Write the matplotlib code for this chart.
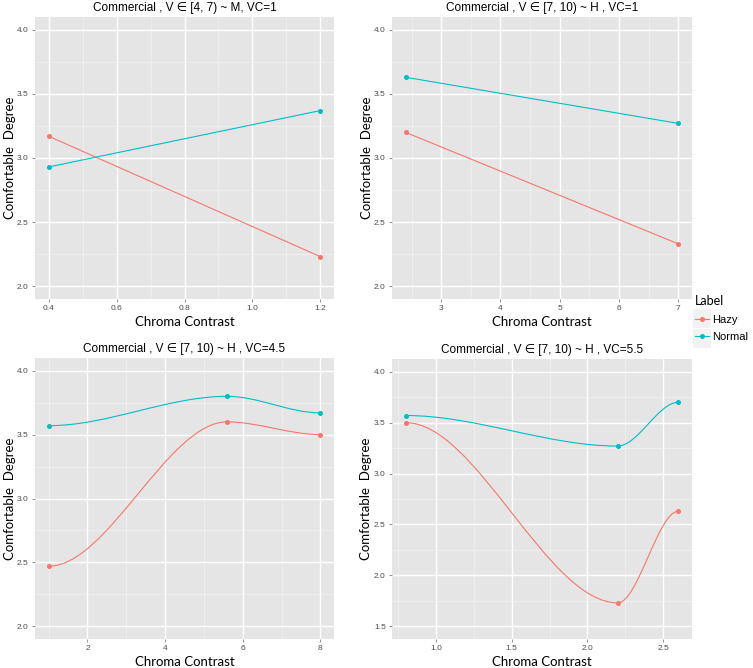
import numpy as np
import matplotlib
matplotlib.use("Agg")
import matplotlib.pyplot as plt
from matplotlib.path import Path
from matplotlib.patches import PathPatch, Rectangle
from matplotlib.lines import Line2D
from matplotlib.ticker import MultipleLocator

# data
titles = ["Commercial , V \u2208 [4, 7) ~ M, VC=1",
          "Commercial , V \u2208 [7, 10) ~ H , VC=1",
          "Commercial , V \u2208 [7, 10) ~ H , VC=4.5",
          "Commercial , V \u2208 [7, 10) ~ H , VC=5.5"]
x_vals = [[0.4, 1.2], [2.4, 7.0], [1.0, 5.6, 8.0], [0.8, 2.2, 2.6]]
hazy = [[3.17, 2.23], [3.20, 2.33], [2.47, 3.60, 3.50], [3.50, 1.73, 2.63]]
normal = [[2.93, 3.37], [3.63, 3.27], [3.57, 3.80, 3.67], [3.57, 3.27, 3.70]]
smooth = [False, False, True, True]
x_major = [0.2, 1.0, 2.0, 0.5]
y_lims = [(2.0, 4.0), (2.0, 4.0), (2.0, 4.0), (1.5, 4.0)]
labels = ["Hazy", "Normal"]
colors = ["#F8766D", "#00BFC4"]

W, H = 753, 668
# panel boxes in pixels: left, top, right, bottom
boxes = [(35, 17, 334, 299), (392, 17, 692, 299),
         (35, 358, 334, 639), (392, 359, 692, 639)]

tick_font = ["Liberation Sans", "DejaVu Sans"]
lab_font = ["Lato", "DejaVu Sans"]

fig = plt.figure(figsize=(W / 100, H / 100), dpi=100)


def draw_curve(ax, x, y, c):
    # cubic segments with flat tangents at each point
    verts = [(x[0], y[0])]
    codes = [Path.MOVETO]
    for i in range(len(x) - 1):
        dx = (x[i + 1] - x[i]) / 3.0
        verts += [(x[i] + dx, y[i]), (x[i + 1] - dx, y[i + 1]), (x[i + 1], y[i + 1])]
        codes += [Path.CURVE4] * 3
    ax.add_patch(PathPatch(Path(verts, codes), fill=False, edgecolor=c, lw=0.8, zorder=3))


for k in range(4):
    l, t, r, b = boxes[k]
    ax = fig.add_axes([l / W, 1 - b / H, (r - l) / W, (b - t) / H])
    ax.set_facecolor("#E5E5E5")
    x = x_vals[k]
    for ser, c, lab in zip([hazy[k], normal[k]], colors, labels):
        if smooth[k]:
            draw_curve(ax, x, ser, c)
            ax.plot(x, ser, "o", color=c, ms=2.6, zorder=4, label=lab)
        else:
            ax.plot(x, ser, "-o", color=c, lw=0.8, ms=2.6, zorder=4, label=lab)

    xr = max(x) - min(x)
    ax.set_xlim(min(x) - 0.05 * xr, max(x) + 0.05 * xr)
    y0, y1 = y_lims[k]
    yr = y1 - y0
    ax.set_ylim(y0 - 0.05 * yr, y1 + 0.05 * yr)
    ax.xaxis.set_major_locator(MultipleLocator(x_major[k]))
    ax.xaxis.set_minor_locator(MultipleLocator(x_major[k] / 2))
    ax.yaxis.set_major_locator(MultipleLocator(0.5))
    ax.yaxis.set_minor_locator(MultipleLocator(0.25))
    if k == 0:
        ax.set_xticks([0.4, 0.6, 0.8, 1.0, 1.2])
        ax.set_xticklabels(["0.4", "0.6", "0.8", "1.0", "1.2"])
    elif k == 3:
        ax.set_xticks([1.0, 1.5, 2.0, 2.5])
        ax.set_xticklabels(["1.0", "1.5", "2.0", "2.5"])
    ax.set_yticks(np.arange(y0, y1 + 0.01, 0.5))
    ax.set_yticklabels(["%.1f" % v for v in np.arange(y0, y1 + 0.01, 0.5)])
    ax.grid(which="major", color="white", lw=1.0)
    ax.grid(which="minor", color="#F2F2F2", lw=0.5)
    ax.set_axisbelow(True)
    for s in ax.spines.values():
        s.set_visible(False)
    ax.tick_params(which="major", length=2.5, width=0.6, color="#7F7F7F",
                   labelsize=6, labelcolor="#4D4D4D", pad=2)
    ax.tick_params(which="minor", length=0)
    for lb in ax.get_xticklabels() + ax.get_yticklabels():
        lb.set_family(tick_font)
    ax.set_title(titles[k], fontsize=8.5, family=tick_font, pad=4)
    ax.set_xlabel("Chroma Contrast", fontsize=9.5, family=lab_font, labelpad=3)
    ax.set_ylabel("Comfortable  Degree", fontsize=9.5, family=lab_font, labelpad=1)

# legend
handles = [Line2D([], [], color=c, marker="o", lw=0.8, ms=2.6) for c in colors]
for i in range(2):
    fig.patches.append(Rectangle((693 / W, 1 - (328 + 20 * i) / H), 18 / W, 19 / H,
                                 transform=fig.transFigure, facecolor="#F2F2F2",
                                 edgecolor="none", zorder=0))
leg = fig.legend(handles, labels, title="Label", loc="upper left",
                 bbox_to_anchor=(687 / W, 1 - 287 / H), frameon=False,
                 handlelength=1.3, handletextpad=0.25, borderpad=0.2,
                 labelspacing=0.7, prop={"family": tick_font, "size": 8})
leg.get_title().set_family(lab_font)
leg.get_title().set_fontsize(9)
leg._legend_box.align = "left"

fig.savefig("out.png", dpi=100)
